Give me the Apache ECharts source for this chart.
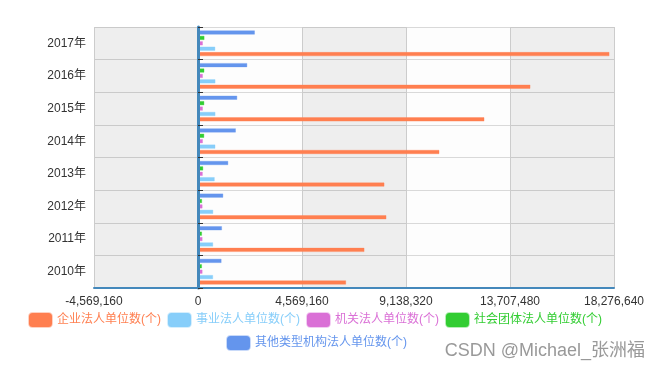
<!DOCTYPE html>
<html>
<head>
<meta charset="utf-8">
<script src="https://cdn.jsdelivr.net/npm/echarts@6/dist/echarts.min.js"></script>
<style>html,body{margin:0;padding:0;background:#fff}#c{width:667px;height:370px}</style>
</head>
<body>
<div id="c"></div>
<script>
var years = ['2010年','2011年','2012年','2013年','2014年','2015年','2016年','2017年'];
var seriesNames = ['企业法人单位数(个)','事业法人单位数(个)','机关法人单位数(个)','社会团体法人单位数(个)','其他类型机构法人单位数(个)'];
var seriesColors = ['#ff7f50','#87cefa','#da70d6','#32cd32','#6495ed'];
var qiye   = [6512000, 7318000, 8283000, 8196000, 10611000, 12588000, 14610000, 18082000];
var shiye  = [670000, 672000, 675000, 740000, 770000, 772000, 772000, 765000];
var jiguan = [205000, 205000, 205000, 215000, 220000, 220000, 220000, 220000];
var shetuan= [180000, 182000, 185000, 235000, 280000, 282000, 285000, 290000];
var qita   = [1040000, 1060000, 1115000, 1335000, 1670000, 1730000, 2170000, 2505000];
var xMin = -4569160, xMax = 18276640, xStep = 4569160;

var values = [qiye, shiye, jiguan, shetuan, qita];
var chart = echarts.init(document.getElementById('c'));
function fmt(v){ return String(v).replace(/(\d{1,3})(?=(?:\d{3})+(?!\d))/g,'$1,'); }
function hexA(h,a){var r=parseInt(h.substr(1,2),16),g=parseInt(h.substr(3,2),16),b=parseInt(h.substr(5,2),16);return 'rgba('+r+','+g+','+b+','+a+')';}

var series = seriesNames.map(function(n,i){
  return {
    name: n, type: 'bar', yAxisIndex: 0,
    data: values[i],
    barCategoryGap: '20%', barGap: '20%',
    itemStyle: { color: seriesColors[i], borderColor: hexA(seriesColors[i],0.35), borderWidth: 1 },
    emphasis: { disabled: true }
  };
}).reverse();

chart.setOption({
  animation: false,
  backgroundColor: '#fff',
  textStyle: { fontFamily: 'Arial, "Liberation Sans", "Noto Sans CJK SC", sans-serif' },
  grid: { left: 94, right: 53, top: 27, bottom: 82 },
  legend: [
    { data: seriesNames.slice(0,4).map(function(n,i){return {name:n, textStyle:{color:seriesColors[i]}};}),
      left: 23, top: 307, itemWidth: 23, itemHeight: 14, itemGap: 6,
      textStyle: { fontSize: 12 } },
    { data: [{name: seriesNames[4], textStyle:{color:seriesColors[4]}}],
      left: 221, top: 330, itemWidth: 23, itemHeight: 14,
      textStyle: { fontSize: 12 } }
  ],
  xAxis: {
    type: 'value', min: xMin, max: xMax, interval: xStep,
    axisLine: { show: true, lineStyle: { color: '#4488bb', width: 2 } },
    axisTick: { show: false },
    axisLabel: { color: '#333', fontSize: 12, formatter: fmt, margin: 8 },
    splitLine: { show: true, lineStyle: { color: '#ccc' } },
    splitArea: { show: true, areaStyle: { color: ['rgba(200,200,200,0.3)','rgba(250,250,250,0.3)'] } }
  },
  yAxis: [
    { type: 'category', data: years, position: 'left',
      axisLine: { show: false, onZero: false },
      axisTick: { show: false },
      axisLabel: { color: '#333', fontSize: 12, margin: 8 },
      splitLine: { show: true, lineStyle: { color: '#ccc' } } },
    { type: 'category', data: years, position: 'left', z: 5,
      axisLine: { show: true, onZero: true, lineStyle: { color: '#4488bb', width: 3 } },
      axisTick: { show: true, inside: true, length: 5, lineStyle: { color: '#333' } },
      axisLabel: { show: false },
      splitLine: { show: false } }
  ],
  graphic: [
    { type: 'text', right: 22, top: 342,
      style: { text: 'CSDN @Michael_张洲福', fill: '#999', fontSize: 18,
               fontFamily: 'Arial, "Liberation Sans", "Noto Sans CJK SC", sans-serif' } }
  ],
  series: series
});
</script>
</body>
</html>
